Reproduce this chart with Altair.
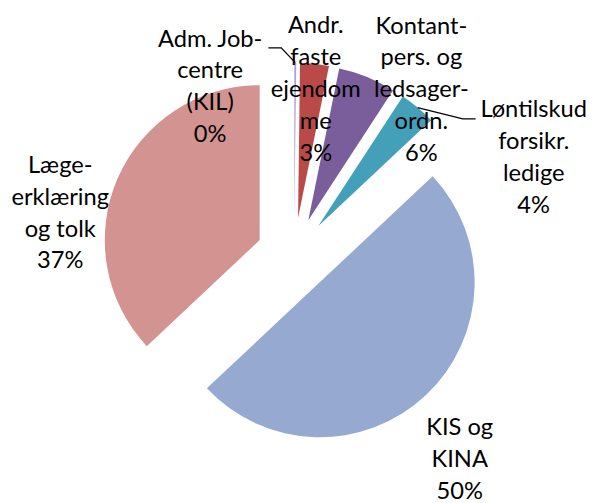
import altair as alt
import pandas as pd
import numpy as np

# ---- data ----
categories = [
    "Adm. Jobcentre (KIL)",
    "Andr. faste ejendomme",
    "Kontaktpers. og ledsagerordn.",
    "Løntilskud forsikr. ledige",
    "KIS og KINA",
    "Lægeerklæring og tolk",
]
values = [0.2, 3.0, 6.0, 3.8, 50.0, 37.0]
label_lines = [
    ["Adm. Job-", "centre", "(KIL)"],
    ["Andr.", "faste", "ejendom", "me"],
    ["Kontant-", "pers. og", "ledsager-", "ordn."],
    ["Løntilskud", "forsikr.", "ledige"],
    ["KIS og", "KINA"],
    ["Læge-", "erklæring", "og tolk"],
]

# ---- style / layout ----
colors = ["#A9A3D3", "#B94A48", "#7A5D9B", "#44A0B9", "#95A9D1", "#D39391"]
W, H = 590, 495
CX, CY = 290, 247
R = 157
EXPLODE = 38
FONT = "Lato"
FS = 24
LH = 32.3
# label block centre: (radius from pie centre, angle in degrees clockwise from 12 o'clock)
label_polar = [(190, 333.4), (168.4, 7.5), (211, 37.7), (262, 68.0), (267.4, 141.1), (240.7, 280.0)]
# leader lines: slice index -> extra points (offsets from pie centre)
leader_points = {0: [(-13, -210), (-26, -210)], 3: [(171, -138), (184, -138)]}

total = sum(values)
cum = np.cumsum(values)
mids = [(c - v / 2) / total * 2 * np.pi for c, v in zip(cum, values)]
pcts = [f"{round(v / total * 100):.0f}%" for v in values]

df = pd.DataFrame({"cat": categories, "value": values, "order": list(range(len(values)))})

pie = (
    alt.Chart(df)
    .transform_joinaggregate(total="sum(value)")
    .transform_window(cum="sum(value)", sort=[alt.SortField("order")], frame=[None, 0])
    .transform_calculate(
        t1="datum.cum / datum.total * 2 * PI",
        t0="(datum.cum - datum.value) / datum.total * 2 * PI",
    )
    .transform_calculate(mid="(datum.t0 + datum.t1) / 2")
    .transform_calculate(
        px=f"{CX} + {EXPLODE} * sin(datum.mid)",
        py=f"{CY} - {EXPLODE} * cos(datum.mid)",
    )
    .mark_arc(radius=R, stroke=None)
    .encode(
        x=alt.X("px:Q", scale=None),
        y=alt.Y("py:Q", scale=None),
        theta=alt.Theta("t0:Q", scale=None, stack=None),
        theta2="t1:Q",
        color=alt.Color("cat:N", scale=alt.Scale(domain=categories, range=colors), legend=None),
    )
)

texts, xs, ys = [], [], []
for l, p, (r, a) in zip(label_lines, pcts, label_polar):
    lines = l + [p]
    texts.append("\n".join(lines))
    xs.append(CX + r * np.sin(np.radians(a)))
    ys.append(CY - r * np.cos(np.radians(a)) - (len(lines) - 1) / 2 * LH)
lab = pd.DataFrame({"text": texts, "x": xs, "y": ys})
labels = alt.Chart(lab).mark_text(
    lineBreak="\n", font=FONT, fontSize=FS, lineHeight=LH,
    align="center", baseline="middle", color="black",
).encode(x=alt.X("x:Q", scale=None), y=alt.Y("y:Q", scale=None), text="text:N")

rows = []
for i, pts in leader_points.items():
    m = mids[i]
    rows.append({"id": i, "o": 0,
                 "x": CX + (EXPLODE + R) * np.sin(m),
                 "y": CY - (EXPLODE + R) * np.cos(m)})
    for k, (dx, dy) in enumerate(pts):
        rows.append({"id": i, "o": k + 1, "x": CX + dx, "y": CY + dy})
leaders = alt.Chart(pd.DataFrame(rows)).mark_line(color="black", strokeWidth=1.3).encode(
    x=alt.X("x:Q", scale=None), y=alt.Y("y:Q", scale=None), detail="id:N", order="o:Q"
)

chart = (
    alt.layer(pie, leaders, labels)
    .properties(width=W, height=H, padding=0, autosize="none")
    .configure_view(stroke=None)
)
chart.save("out.html", embed_options={"renderer": "svg", "actions": False})
